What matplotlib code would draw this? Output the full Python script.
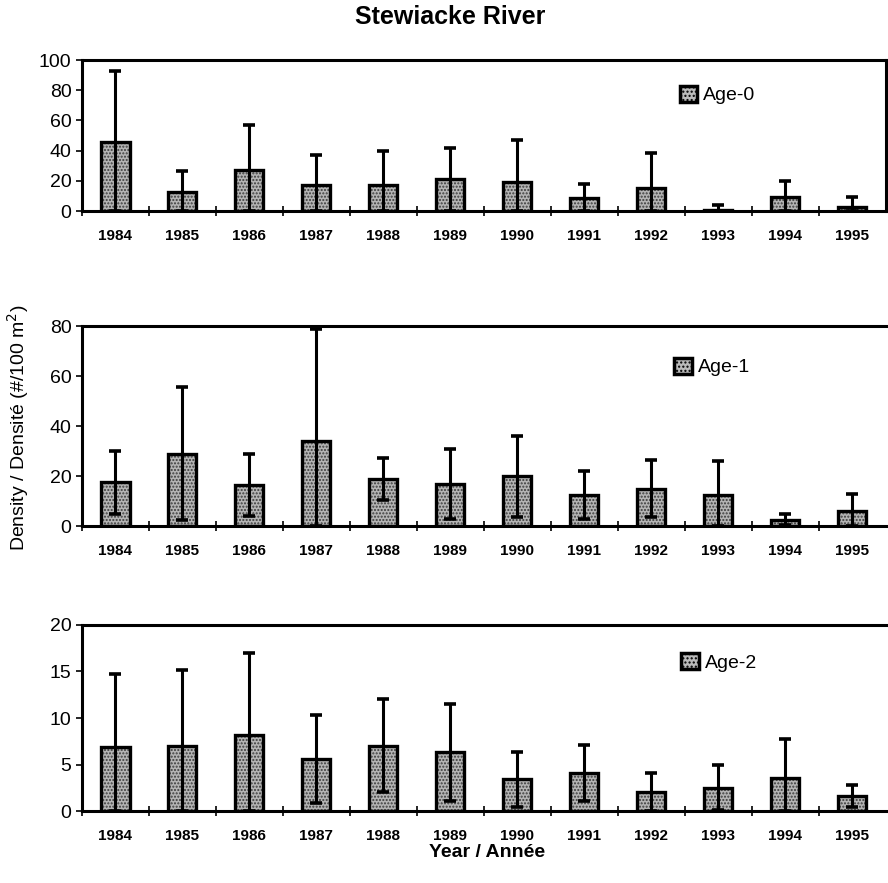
import numpy as np
import matplotlib.pyplot as plt
from matplotlib.patches import Patch

plt.rcParams['font.family'] = ['Liberation Sans', 'DejaVu Sans']

years = ['1984', '1985', '1986', '1987', '1988', '1989',
         '1990', '1991', '1992', '1993', '1994', '1995']

# mean density and standard deviation
age0_mean = [46, 12.5, 27, 17, 17, 21, 19, 8.5, 15, 1, 9, 3]
age0_sd   = [47, 14, 30, 20, 22.5, 21, 28, 9.5, 23.5, 3, 11, 6]
age1_mean = [17.5, 29, 16.5, 34, 18.8, 16.7, 20, 12.5, 15, 12.5, 2.6, 6.2]
age1_sd   = [12.5, 26.5, 12.3, 45, 8.5, 14, 16.2, 9.5, 11.4, 13.6, 2.3, 6.6]
age2_mean = [6.9, 7.0, 8.2, 5.6, 7.0, 6.3, 3.4, 4.1, 2.0, 2.5, 3.6, 1.6]
age2_sd   = [7.8, 8.2, 8.8, 4.7, 5.0, 5.2, 3.0, 3.0, 2.1, 2.4, 4.1, 1.2]

panels = [
    ('Age-0', age0_mean, age0_sd, 100, 20, [0.0923, 0.761, 0.905, 0.171], (0.744, 0.768)),
    ('Age-1', age1_mean, age1_sd, 80, 20, [0.0923, 0.4043, 0.905, 0.2265], (0.737, 0.795)),
    ('Age-2', age2_mean, age2_sd, 20, 5, [0.0923, 0.0815, 0.905, 0.2107], (0.746, 0.80)),
]

fig = plt.figure(figsize=(8.88, 8.83), dpi=100)

x = np.arange(len(years))
for i, (name, mean, sd, ymax, ystep, pos, legpos) in enumerate(panels):
    ax = fig.add_axes(pos)
    mean = np.array(mean)
    sd = np.array(sd)
    lower = np.minimum(sd, mean)

    # stippled fill, then thick black outline
    ax.bar(x, mean, width=0.42, color='#b4b4b4', edgecolor='#3c3c3c',
           hatch='.....', linewidth=0, zorder=2)
    ax.bar(x, mean, width=0.42, fill=False, edgecolor='black',
           linewidth=2.4, zorder=3)
    ax.errorbar(x, mean, yerr=[lower, sd], fmt='none', ecolor='black',
                elinewidth=2.2, capsize=4.5, capthick=2.6, zorder=4)

    ax.set_xlim(-0.5, len(years) - 0.5)
    ax.set_ylim(0, ymax)
    ax.set_yticks(np.arange(0, ymax + 1, ystep))
    ax.tick_params(axis='y', labelsize=14, direction='out', length=4, width=1.2)

    ax.set_xticks(x)
    ax.set_xticklabels(years, fontsize=11, fontweight='bold')
    ax.tick_params(axis='x', which='major', length=0, pad=13)
    ax.set_xticks(np.arange(-0.5, len(years) - 0.5, 1), minor=True)
    ax.tick_params(axis='x', which='minor', direction='inout', length=7, width=1.2)

    for s in ['left', 'bottom', 'top']:
        ax.spines[s].set_linewidth(2.2)
    if i == 0:
        ax.spines['right'].set_linewidth(2.2)
    else:
        ax.spines['right'].set_visible(False)

    handle = Patch(facecolor='#bbbbbb', edgecolor='black', hatch='....',
                   linewidth=2.5)
    ax.legend([handle], [name], loc='center left', bbox_to_anchor=legpos,
              frameon=False, fontsize=14, handlelength=0.9, handleheight=0.9,
              handletextpad=0.3, borderpad=0, borderaxespad=0)

fig.text(0.507, 0.981, 'Stewiacke River', ha='center', va='center',
         fontsize=18, fontweight='bold')
fig.text(0.548, 0.034, 'Year / Année', ha='center', va='center',
         fontsize=14, fontweight='bold')
fig.text(0.02, 0.516, 'Density / Densité (#/100 m$^2$)', ha='center',
         va='center', rotation=90, fontsize=14)

fig.savefig('out.png', dpi=100)
